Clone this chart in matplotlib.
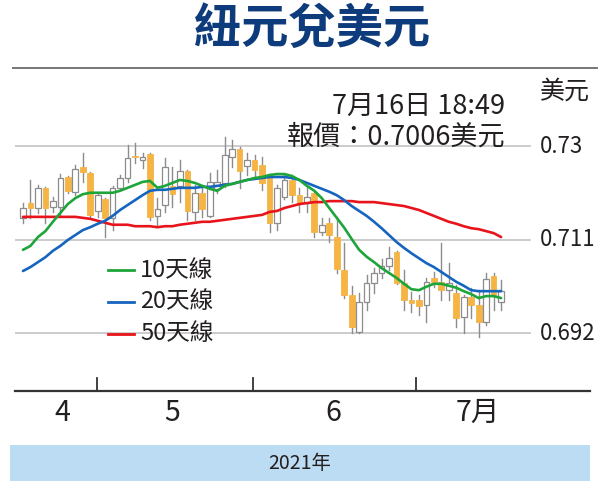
import matplotlib
matplotlib.use("Agg")
import matplotlib.pyplot as plt
from matplotlib.patches import Rectangle
from matplotlib.lines import Line2D
import numpy as np

plt.rcParams['font.family'] = ['Liberation Sans Narrow', 'Noto Sans CJK TC', 'DejaVu Sans']

# ---- data (NZD/USD daily, mid-Apr to 16 Jul 2021) ----
opens = [0.7154, 0.7184, 0.7174, 0.7215, 0.7176, 0.7176, 0.7237, 0.7207, 0.7257, 0.7245,
         0.7168, 0.7192, 0.7154, 0.7215, 0.7235, 0.7280, 0.7272, 0.7284, 0.7158, 0.7180,
         0.7219, 0.7219, 0.7249, 0.7166, 0.7205, 0.7158, 0.7213, 0.7225, 0.7278, 0.7294,
         0.7259, 0.7272, 0.7261, 0.7241, 0.7144, 0.7196, 0.7231, 0.7200, 0.7184, 0.7205,
         0.7125, 0.7144, 0.7115, 0.7048, 0.6997, 0.6922, 0.6983, 0.7022, 0.7042, 0.7056,
         0.7085, 0.7022, 0.6987, 0.6987, 0.6977, 0.7032, 0.7024, 0.7007, 0.7001, 0.6953,
         0.6993, 0.6977, 0.6943, 0.7036, 0.6983]
highs = [0.7184, 0.7231, 0.7221, 0.7217, 0.7196, 0.7243, 0.7239, 0.7261, 0.7286, 0.7247,
         0.7207, 0.7194, 0.7219, 0.7241, 0.7302, 0.7306, 0.7286, 0.7286, 0.7194, 0.7276,
         0.7257, 0.7272, 0.7251, 0.7221, 0.7215, 0.7245, 0.7251, 0.7318, 0.7312, 0.7298,
         0.7286, 0.7282, 0.7278, 0.7243, 0.7221, 0.7241, 0.7241, 0.7215, 0.7215, 0.7207,
         0.7154, 0.7154, 0.7156, 0.7103, 0.7016, 0.7001, 0.7038, 0.7052, 0.7070, 0.7095,
         0.7087, 0.7048, 0.7003, 0.6997, 0.7032, 0.7044, 0.7103, 0.7062, 0.7018, 0.6997,
         0.7012, 0.7007, 0.7042, 0.7042, 0.7028]
lows = [0.7144, 0.7154, 0.7164, 0.7144, 0.7166, 0.7160, 0.7205, 0.7200, 0.7227, 0.7154,
        0.7156, 0.7115, 0.7129, 0.7211, 0.7227, 0.7265, 0.7255, 0.7150, 0.7140, 0.7166,
        0.7176, 0.7186, 0.7150, 0.7150, 0.7156, 0.7156, 0.7205, 0.7217, 0.7257, 0.7215,
        0.7241, 0.7237, 0.7211, 0.7125, 0.7129, 0.7192, 0.7186, 0.7166, 0.7166, 0.7115,
        0.7119, 0.7105, 0.7042, 0.6991, 0.6920, 0.6920, 0.6967, 0.7001, 0.7032, 0.7048,
        0.7020, 0.6967, 0.6963, 0.6957, 0.6943, 0.7014, 0.6987, 0.6987, 0.6932, 0.6920,
        0.6951, 0.6912, 0.6937, 0.6967, 0.6967]
closes = [0.7174, 0.7174, 0.7215, 0.7174, 0.7188, 0.7235, 0.7209, 0.7253, 0.7247, 0.7160,
          0.7200, 0.7154, 0.7215, 0.7235, 0.7276, 0.7277, 0.7278, 0.7156, 0.7172, 0.7257,
          0.7202, 0.7249, 0.7168, 0.7205, 0.7172, 0.7227, 0.7227, 0.7282, 0.7294, 0.7249,
          0.7272, 0.7251, 0.7225, 0.7144, 0.7215, 0.7231, 0.7200, 0.7184, 0.7196, 0.7125,
          0.7140, 0.7119, 0.7050, 0.6997, 0.6932, 0.6983, 0.7022, 0.7042, 0.7056, 0.7072,
          0.7022, 0.6987, 0.6981, 0.6975, 0.7024, 0.7024, 0.7007, 0.7022, 0.6951, 0.6993,
          0.6977, 0.6943, 0.7030, 0.6997, 0.7006]

ma10 = [0.7089, 0.7097, 0.7115, 0.7127, 0.7146, 0.7164, 0.7182, 0.7194, 0.7202, 0.7205,
        0.7205, 0.7205, 0.7205, 0.7209, 0.7215, 0.7221, 0.7227, 0.7229, 0.7215, 0.7219,
        0.7225, 0.7231, 0.7229, 0.7225, 0.7219, 0.7213, 0.7209, 0.7219, 0.7223, 0.7227,
        0.7231, 0.7235, 0.7237, 0.7241, 0.7243, 0.7243, 0.7239, 0.7231, 0.7219, 0.7209,
        0.7194, 0.7174, 0.7154, 0.7134, 0.7111, 0.7089, 0.7075, 0.7064, 0.7052, 0.7042,
        0.7032, 0.7020, 0.7009, 0.7007, 0.7014, 0.7020, 0.7020, 0.7016, 0.7012, 0.7005,
        0.6999, 0.6991, 0.6995, 0.6995, 0.6991]
ma20 = [0.7046, 0.7054, 0.7064, 0.7074, 0.7087, 0.7097, 0.7109, 0.7119, 0.7129, 0.7135,
        0.7142, 0.7148, 0.7158, 0.7170, 0.7180, 0.7190, 0.7200, 0.7209, 0.7211, 0.7211,
        0.7213, 0.7215, 0.7215, 0.7215, 0.7217, 0.7217, 0.7219, 0.7221, 0.7223, 0.7227,
        0.7231, 0.7233, 0.7235, 0.7237, 0.7237, 0.7237, 0.7235, 0.7231, 0.7225, 0.7219,
        0.7213, 0.7207, 0.7200, 0.7190, 0.7178, 0.7168, 0.7158, 0.7146, 0.7133, 0.7119,
        0.7105, 0.7093, 0.7082, 0.7072, 0.7062, 0.7054, 0.7044, 0.7034, 0.7024, 0.7016,
        0.7007, 0.7005, 0.7005, 0.7005, 0.7005]
ma50 = [0.7156, 0.7156, 0.7156, 0.7156, 0.7156, 0.7156, 0.7156, 0.7156, 0.7154, 0.7152,
        0.7148, 0.7144, 0.7140, 0.7140, 0.7140, 0.7137, 0.7137, 0.7137, 0.7135, 0.7137,
        0.7137, 0.7140, 0.7142, 0.7144, 0.7146, 0.7146, 0.7148, 0.7150, 0.7152, 0.7154,
        0.7156, 0.7158, 0.7160, 0.7166, 0.7168, 0.7174, 0.7178, 0.7182, 0.7184, 0.7186,
        0.7186, 0.7188, 0.7188, 0.7188, 0.7188, 0.7186, 0.7186, 0.7186, 0.7184, 0.7182,
        0.7180, 0.7178, 0.7174, 0.7170, 0.7164, 0.7158, 0.7152, 0.7146, 0.7142, 0.7137,
        0.7133, 0.7131, 0.7127, 0.7123, 0.7115]

yticks = [0.692, 0.711, 0.73]
ytick_labels = ['0.692', '0.711', '0.73']
month_labels = ['4', '5', '6', '7月']
legend_labels = ['10天線', '20天線', '50天線']

title = '紐元兌美元'
stamp = '7月16日 18:49'
quote = '報價：0.7006美元'
unit = '美元'
year = '2021年'

# ---- figure ----
W, H = 600, 486
fig = plt.figure(figsize=(W / 100, H / 100), dpi=100)
fig.patch.set_facecolor('white')

def fx(x):
    return x / W

def fy(y):
    return 1 - y / H

step = 7.47
x0 = 23
ax = fig.add_axes([fx(15), fy(391), fx(590) - fx(15), fy(68) - fy(391)])
ax.set_xlim((15 - x0) / step, (590 - x0) / step)
ax.set_ylim(0.680216, 0.745849)
ax.axis('off')

grid_end = (530 - x0) / step
for v in yticks:
    ax.plot([ax.get_xlim()[0], grid_end], [v, v], color='#c8c8c8', lw=1.3, zorder=1)

up_edge = '#8c8c8c'
down_col = '#f6b445'
bw = 0.76
for i, (o, h, l, c) in enumerate(zip(opens, highs, lows, closes)):
    ax.plot([i, i], [l, h], color='#8c8c8c', lw=1.0, zorder=2)
    lo, hi = min(o, c), max(o, c)
    if c >= o:
        ax.add_patch(Rectangle((i - bw / 2, lo), bw, max(hi - lo, 0.00004),
                               facecolor='white', edgecolor=up_edge, lw=0.9, zorder=3))
    else:
        ax.add_patch(Rectangle((i - bw / 2, lo), bw, max(hi - lo, 0.00004),
                               facecolor=down_col, edgecolor=down_col, lw=0.6, zorder=3))

xs = np.arange(len(closes))
colors = ['#1ea53a', '#1565c0', '#e8141b']
for ser, col in zip([ma50, ma20, ma10], colors[::-1]):
    ax.plot(xs, ser, color=col, lw=1.9, zorder=5, solid_capstyle='round')

# bottom axis line and month ticks
fig.add_artist(Line2D([fx(15), fx(590)], [fy(391), fy(391)], color='#333333', lw=1.6))
for px in [97, 253, 416]:
    fig.add_artist(Line2D([fx(px), fx(px)], [fy(391), fy(378)], color='#333333', lw=1.3))

for lab, px in zip(month_labels, [62, 172, 333, 478]):
    fig.text(fx(px), fy(413), lab, ha='center', va='center', fontsize=20.5, color='#231f20')

# top rule
fig.add_artist(Line2D([fx(13), fx(597)], [fy(68), fy(68)], color='#777777', lw=1.4))

# title
fig.text(fx(312), fy(29), title, ha='center', va='center', fontsize=34,
         fontweight='heavy', color='#0d3b7c', family=['Noto Sans CJK TC'])

# y labels
for v, lab in zip(yticks, ytick_labels):
    fig.text(fx(540), fy(146 + (0.73 - v) / 0.0002032), lab, ha='left', va='center',
             fontsize=16, color='#231f20')
fig.text(fx(540), fy(92), unit, ha='left', va='center', fontsize=18, color='#231f20')

fig.text(fx(505), fy(106), stamp, ha='right', va='center', fontsize=19.5, color='#231f20')
fig.text(fx(505), fy(137), quote, ha='right', va='center', fontsize=19.5, color='#231f20')

# legend
for k, (lab, col) in enumerate(zip(legend_labels, colors)):
    yy = 270 + 32 * k
    fig.add_artist(Line2D([fx(108), fx(134)], [fy(yy), fy(yy)], color=col, lw=2.0))
    fig.text(fx(140), fy(yy), lab, ha='left', va='center', fontsize=17, color='#231f20')

# bottom band
fig.add_artist(Rectangle((fx(10), fy(481)), fx(590) - fx(10), fy(445) - fy(481),
                         transform=fig.transFigure, facecolor='#bcdcf3', edgecolor='none'))
fig.text(fx(300), fy(463), year, ha='center', va='center', fontsize=14, color='#231f20')

fig.savefig('out.png', dpi=100)
